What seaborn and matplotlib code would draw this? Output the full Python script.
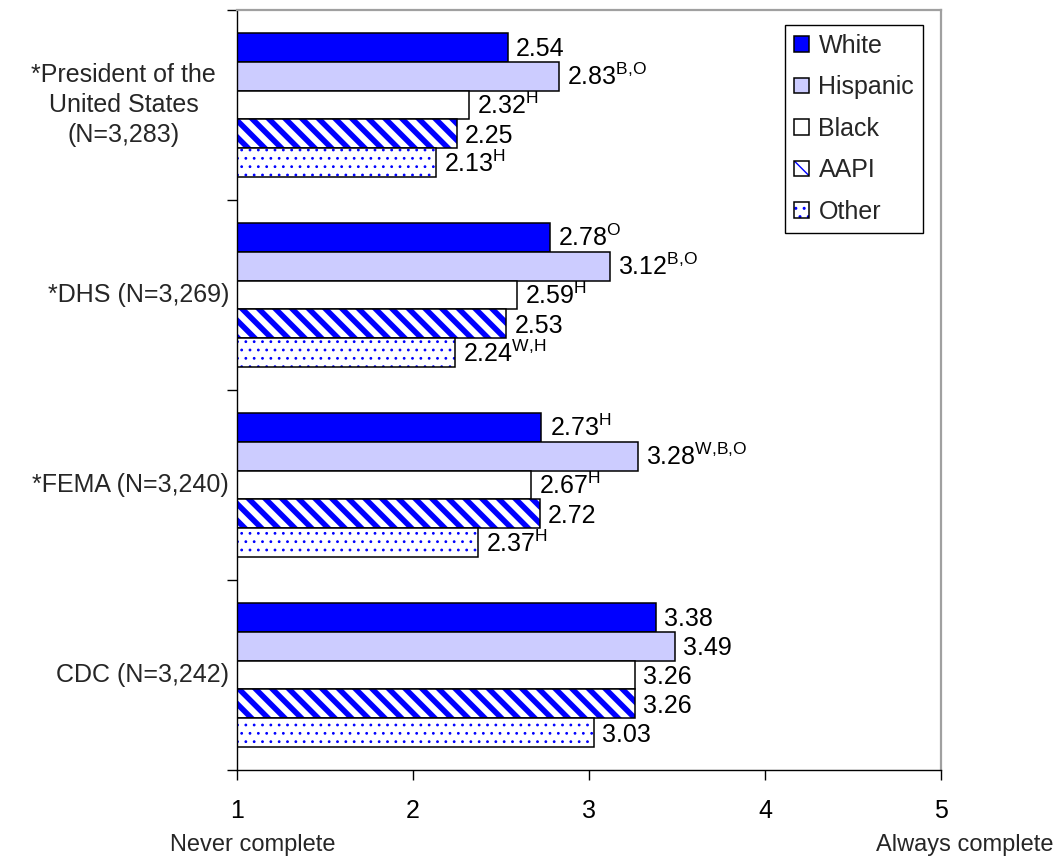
import matplotlib
matplotlib.use("Agg")
import matplotlib.pyplot as plt
import numpy as np
import pandas as pd
import seaborn as sns
from matplotlib.patches import Patch
from matplotlib import colors as mcolors

# ---------------- data ----------------
categories = ["*President of the\nUnited States\n(N=3,283)", "*DHS (N=3,269)",
              "*FEMA (N=3,240)", "CDC (N=3,242)"]
groups = ["White", "Hispanic", "Black", "AAPI", "Other"]
white = [2.54, 2.78, 2.73, 3.38]
hispanic = [2.83, 3.12, 3.28, 3.49]
black = [2.32, 2.59, 2.67, 3.26]
aapi = [2.25, 2.53, 2.72, 3.26]
other = [2.13, 2.24, 2.37, 3.03]
sup_white = ["", "O", "H", ""]
sup_hispanic = ["B,O", "B,O", "W,B,O", ""]
sup_black = ["H", "H", "H", ""]
sup_aapi = ["", "", "", ""]
sup_other = ["H", "W,H", "H", ""]
x_ticks = [1, 2, 3, 4, 5]
x_end_labels = ["Never complete", "Always complete"]

values = {"White": white, "Hispanic": hispanic, "Black": black, "AAPI": aapi, "Other": other}
sups = {"White": sup_white, "Hispanic": sup_hispanic, "Black": sup_black,
        "AAPI": sup_aapi, "Other": sup_other}

# ---------------- styles ----------------
face = {"White": "#0000FF", "Hispanic": "#CCCCFF", "Black": "#FFFFFF",
        "AAPI": "#FFFFFF", "Other": "#FFFFFF"}
hatch = {"White": None, "Hispanic": None, "Black": None, "AAPI": "\\\\", "Other": ".."}
hatch_lw = {"AAPI": 4.0, "Other": 0.8}
blue = mcolors.to_rgba("#0000FF")

sns.set_style("ticks")
plt.rcParams["font.family"] = ["Liberation Sans", "DejaVu Sans"]
plt.rcParams["mathtext.fontset"] = "custom"
plt.rcParams["mathtext.rm"] = "Liberation Sans"
plt.rcParams["mathtext.it"] = "Liberation Sans"
plt.rcParams["mathtext.default"] = "rm"

FS = 18

rows = []
for g in groups:
    for c, v in zip(categories, values[g]):
        rows.append({"category": c, "group": g, "value": v})
df = pd.DataFrame(rows)

fig = plt.figure(figsize=(10.57, 8.56), dpi=100)
ax = fig.add_axes([237 / 1057, 1 - 770 / 856, (941 - 237) / 1057, 760 / 856])

sns.barplot(data=df, x="value", y="category", hue="group", order=categories,
            hue_order=groups, palette=face, saturation=1, width=0.763,
            edgecolor="black", linewidth=1.1, orient="h", ax=ax, legend=False,
            errorbar=None)


def style_patch(p, g):
    if hatch[g]:
        p.set_hatch(hatch[g])
        p._hatch_color = blue
        lw = hatch_lw[g]
        if hasattr(p, "set_hatch_linewidth"):
            p.set_hatch_linewidth(lw)
        else:
            p._hatch_linewidth = lw


def sup_text(s):
    return r"$^{\mathrm{" + s.replace(",", "{,}") + "}}$"


for cont, g in zip(ax.containers, groups):
    for i, bar in enumerate(cont):
        style_patch(bar, g)
        v = values[g][i]
        s = sups[g][i]
        txt = f"{v:.2f}" + (sup_text(s) if s else "")
        yc = bar.get_y() + bar.get_height() / 2
        ax.annotate(txt, xy=(v, yc), xytext=(5.8, -6.4), textcoords="offset points",
                    ha="left", va="baseline", fontsize=FS, color="black")

ax.set_xlim(1, 5)
ax.set_ylim(len(categories) - 0.5, -0.5)
ax.set_xticks(x_ticks)
ax.set_xticklabels([str(t) for t in x_ticks], fontsize=FS)
ax.set_yticks(np.arange(len(categories) + 1) - 0.5)
ax.set_yticklabels([])
ax.tick_params(axis="x", direction="out", length=7, width=1, pad=14, colors="black")
ax.tick_params(axis="y", direction="out", length=7, width=1, colors="black")
ax.set_xlabel("")
ax.set_ylabel("")

# category labels
label_offsets = [-21, -8, -8, -8]
for i, (c, off) in enumerate(zip(categories, label_offsets)):
    ax.annotate(c, xy=(0, i), xycoords=("axes fraction", "data"),
                xytext=(off * 0.72, 0), textcoords="offset points",
                ha="right", va="center", multialignment="center",
                fontsize=FS, linespacing=1.3)

# end labels
ax.annotate(x_end_labels[0], xy=(x_ticks[0], 0), xycoords=("data", "axes fraction"),
            xytext=(11.5, -54), textcoords="offset points", ha="center", va="center",
            fontsize=17)
ax.annotate(x_end_labels[1], xy=(x_ticks[-1], 0), xycoords=("data", "axes fraction"),
            xytext=(17, -54), textcoords="offset points", ha="center", va="center",
            fontsize=17, annotation_clip=False)

for s in ["left", "bottom"]:
    ax.spines[s].set_color("black")
    ax.spines[s].set_linewidth(1.0)
for s in ["top", "right"]:
    ax.spines[s].set_visible(True)
    ax.spines[s].set_color("#A0A0A0")
    ax.spines[s].set_linewidth(1.6)

# legend
handles = []
for g in groups:
    h = Patch(facecolor=face[g], edgecolor="black", linewidth=1.1, label=g)
    style_patch(h, g)
    handles.append(h)
leg = ax.legend(handles=handles, loc="upper right",
                bbox_to_anchor=((923 - 237) / 704, 1 - 15 / 760), borderaxespad=0,
                fontsize=FS, frameon=True, fancybox=False, shadow=False,
                handlelength=0.6, handleheight=0.6, handletextpad=0.4,
                labelspacing=0.7, borderpad=0.35, edgecolor="black", framealpha=1)
leg.get_frame().set_linewidth(1.0)

fig.savefig("out.png", dpi=100)
